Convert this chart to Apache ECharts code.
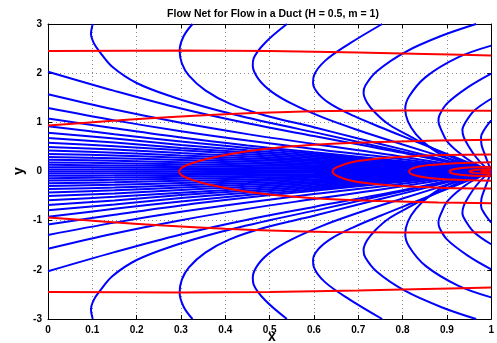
<!DOCTYPE html>
<html>
<head>
<meta charset="utf-8">
<script src="https://cdn.jsdelivr.net/npm/echarts@6/dist/echarts.min.js"></script>
<style>
html, body { margin: 0; padding: 0; background: #fff; }
#chart { width: 497px; height: 343px; }
</style>
</head>
<body>
<div id="chart"></div>
<script>
// ---- data (upper half, the plot is mirrored about y = 0) ----
// streamlines leaving the left edge: y at each fanX station
const fanX = [0, 0.15, 0.3, 0.45, 0.6, 0.8, 1];
const fanLines = [
    [2.03, 1.64, 1.28, 0.98, 0.72, 0.38, 0],
    [1.57, 1.26, 0.99, 0.76, 0.56, 0.30, 0],
    [1.29, 1.04, 0.82, 0.63, 0.46, 0.25, 0],
    [1.08, 0.88, 0.69, 0.53, 0.39, 0.21, 0],
    [0.92, 0.76, 0.61, 0.48, 0.36, 0.195, 0],
    [0.79, 0.67, 0.54, 0.43, 0.33, 0.18, 0],
    [0.68, 0.59, 0.48, 0.39, 0.30, 0.165, 0],
    [0.585, 0.515, 0.43, 0.35, 0.27, 0.15, 0],
    [0.50, 0.445, 0.375, 0.31, 0.24, 0.135, 0],
    [0.425, 0.383, 0.327, 0.272, 0.213, 0.12, 0],
    [0.357, 0.325, 0.28, 0.235, 0.185, 0.105, 0],
    [0.295, 0.27, 0.235, 0.198, 0.157, 0.09, 0],
    [0.238, 0.218, 0.19, 0.162, 0.128, 0.074, 0],
    [0.185, 0.17, 0.149, 0.127, 0.101, 0.058, 0],
    [0.135, 0.124, 0.109, 0.093, 0.074, 0.043, 0],
    [0.088, 0.081, 0.071, 0.061, 0.049, 0.028, 0],
    [0.043, 0.04, 0.035, 0.03, 0.024, 0.014, 0],
    [0, 0, 0, 0, 0, 0, 0]
];
// streamlines coming in from the top and right edges
const arc1 = [[0.101, 3], [0.097, 2.8], [0.104, 2.6], [0.117, 2.43], [0.145, 2.13], [0.2, 1.8], [0.28, 1.52], [0.38, 1.25], [0.5, 0.99], [0.62, 0.76], [0.75, 0.5], [0.88, 0.24], [1, 0]];
const arc2 = [[0.326, 3], [0.306, 2.75], [0.297, 2.46], [0.302, 2.2], [0.318, 1.95], [0.355, 1.65], [0.41, 1.38], [0.49, 1.14], [0.6, 0.9], [0.7, 0.67], [0.8, 0.45], [0.9, 0.22], [1, 0]];
const arc3 = [[0.539, 3], [0.49, 2.62], [0.464, 2.3], [0.462, 2.15], [0.475, 1.88], [0.505, 1.62], [0.55, 1.38], [0.62, 1.1], [0.7, 0.84], [0.8, 0.55], [0.9, 0.27], [1, 0]];
const arc4 = [[0.754, 3], [0.68, 2.6], [0.625, 2.25], [0.6, 1.95], [0.598, 1.8], [0.61, 1.58], [0.64, 1.36], [0.69, 1.13], [0.75, 0.9], [0.83, 0.61], [0.91, 0.32], [1, 0]];
const arc5 = [[0.966, 3], [0.888, 2.76], [0.806, 2.43], [0.742, 2.04], [0.716, 1.75], [0.712, 1.6], [0.72, 1.4], [0.74, 1.18], [0.77, 0.95], [0.82, 0.7], [0.88, 0.42], [0.94, 0.18], [1, 0]];
const arc6 = [[1, 2.56], [0.925, 2.32], [0.852, 1.92], [0.815, 1.53], [0.806, 1.27], [0.812, 1.02], [0.83, 0.76], [0.86, 0.5], [0.9, 0.28], [0.95, 0.1], [1, 0]];
const arc7 = [[1, 1.99], [0.947, 1.71], [0.9, 1.38], [0.883, 1.14], [0.881, 1.02], [0.888, 0.83], [0.9, 0.62], [0.925, 0.4], [0.955, 0.2], [1, 0]];
const arc8 = [[1, 1.48], [0.962, 1.24], [0.942, 1.0], [0.935, 0.85], [0.938, 0.7], [0.95, 0.5], [0.965, 0.3], [0.982, 0.13], [1, 0]];
const arc9 = [[1, 1.04], [0.985, 0.86], [0.977, 0.7], [0.978, 0.55], [0.985, 0.36], [0.993, 0.17], [1, 0]];
// equipotential lines (red)
const red1 = [[0, 2.45], [0.3, 2.46], [0.5, 2.45], [0.7, 2.42], [0.85, 2.39], [1, 2.36]];
const red2 = [[0, 0.935], [0.13, 1.02], [0.26, 1.1], [0.4, 1.165], [0.5, 1.2], [0.63, 1.23], [0.8, 1.24], [1, 1.235]];
// loops round the sink, from the vertex on y = 0 to the right edge
const red3 = [[0.296, 0], [0.302, 0.08], [0.322, 0.16], [0.36, 0.26], [0.435, 0.39], [0.51, 0.48], [0.62, 0.555], [0.75, 0.6], [0.88, 0.63], [1, 0.645]];
const red4 = [[0.642, 0], [0.652, 0.09], [0.685, 0.19], [0.73, 0.25], [0.784, 0.29], [0.895, 0.335], [1, 0.345]];
const red5 = [[0.815, 0], [0.825, 0.07], [0.86, 0.13], [0.92, 0.17], [1, 0.19]];
const red6 = [[0.906, 0], [0.915, 0.045], [0.95, 0.08], [1, 0.095]];
const red7 = [[0.951, 0], [0.96, 0.028], [1, 0.05]];
const red8 = [[0.977, 0], [0.985, 0.014], [1, 0.024]];

// ---- build series ----
const BLUE = '#0000ff';
const RED = '#ff0000';
const flip = pts => pts.map(p => [p[0], -p[1]]);

function line (pts, color, z) {
    return {
        type: 'line',
        data: pts,
        showSymbol: false,
        symbol: 'none',
        smooth: 0.35,
        silent: true,
        animation: false,
        clip: true,
        z: z,
        lineStyle: { color: color, width: 2 }
    };
}

let series = [];
fanLines.forEach(ys => {
    const pts = ys.map((y, i) => [fanX[i], y]);
    series.push(line(pts, BLUE, 2));
    if (ys[0] !== 0) series.push(line(flip(pts), BLUE, 2));
});
[arc1, arc2, arc3, arc4, arc5, arc6, arc7, arc8, arc9].forEach(a => {
    series.push(line(a, BLUE, 2));
    series.push(line(flip(a), BLUE, 2));
});
[red1, red2].forEach(r => {
    series.push(line(r, RED, 3));
    series.push(line(flip(r), RED, 3));
});
[red3, red4, red5, red6, red7, red8].forEach(r => {
    // join the lower and upper half into one curve through the vertex
    const loop = flip(r.slice().reverse()).concat(r.slice(1));
    series.push(line(loop, RED, 3));
});

const gridStyle = { show: true, lineStyle: { color: '#8a8a8a', width: 1, type: [1, 3] } };
const labelFont = { color: '#000', fontSize: 10, fontWeight: 'bold', fontFamily: 'Liberation Sans, Arial, sans-serif' };
const boxAxis = {
    axisLine: { show: true, onZero: false, lineStyle: { color: '#000', width: 1 } },
    axisTick: { show: true, inside: true, length: 4, lineStyle: { color: '#000' } }
};

let myChart = echarts.init(document.getElementById('chart'), null, { renderer: 'canvas' });
myChart.setOption({
    backgroundColor: '#fff',
    animation: false,
    grid: { left: 48, right: 0, top: 24, bottom: 24, containLabel: false },
    xAxis: [Object.assign({
        type: 'value', min: 0, max: 1, interval: 0.1,
        axisLabel: Object.assign({ margin: 6, formatter: v => String(Math.round(v * 10) / 10) }, labelFont),
        splitLine: gridStyle
    }, boxAxis), Object.assign({
        type: 'value', min: 0, max: 1, interval: 0.1, position: 'top',
        axisLabel: { show: false },
        splitLine: { show: false }
    }, boxAxis)],
    yAxis: [Object.assign({
        type: 'value', min: -3, max: 3, interval: 1,
        axisLabel: Object.assign({ margin: 6 }, labelFont),
        splitLine: gridStyle
    }, boxAxis), Object.assign({
        type: 'value', min: -3, max: 3, interval: 1, position: 'right',
        axisLabel: { show: false },
        splitLine: { show: false }
    }, boxAxis)],
    graphic: [
        { type: 'text', x: 273, y: 14, z: 10,
          style: { text: 'Flow Net for Flow in a Duct (H = 0.5, m = 1)', fill: '#000',
                   font: 'bold 10.5px "Liberation Sans", Arial, sans-serif', textAlign: 'center', textVerticalAlign: 'middle' } },
        { type: 'text', x: 272, y: 337, z: 10,
          style: { text: 'x', fill: '#000', font: 'bold 14px "Liberation Sans", Arial, sans-serif',
                   textAlign: 'center', textVerticalAlign: 'middle' } },
        { type: 'text', x: 19, y: 171, rotation: Math.PI / 2, z: 10,
          style: { text: 'y', fill: '#000', font: 'bold 14px "Liberation Sans", Arial, sans-serif',
                   textAlign: 'center', textVerticalAlign: 'middle' } }
    ],
    series: series
});
</script>
</body>
</html>
